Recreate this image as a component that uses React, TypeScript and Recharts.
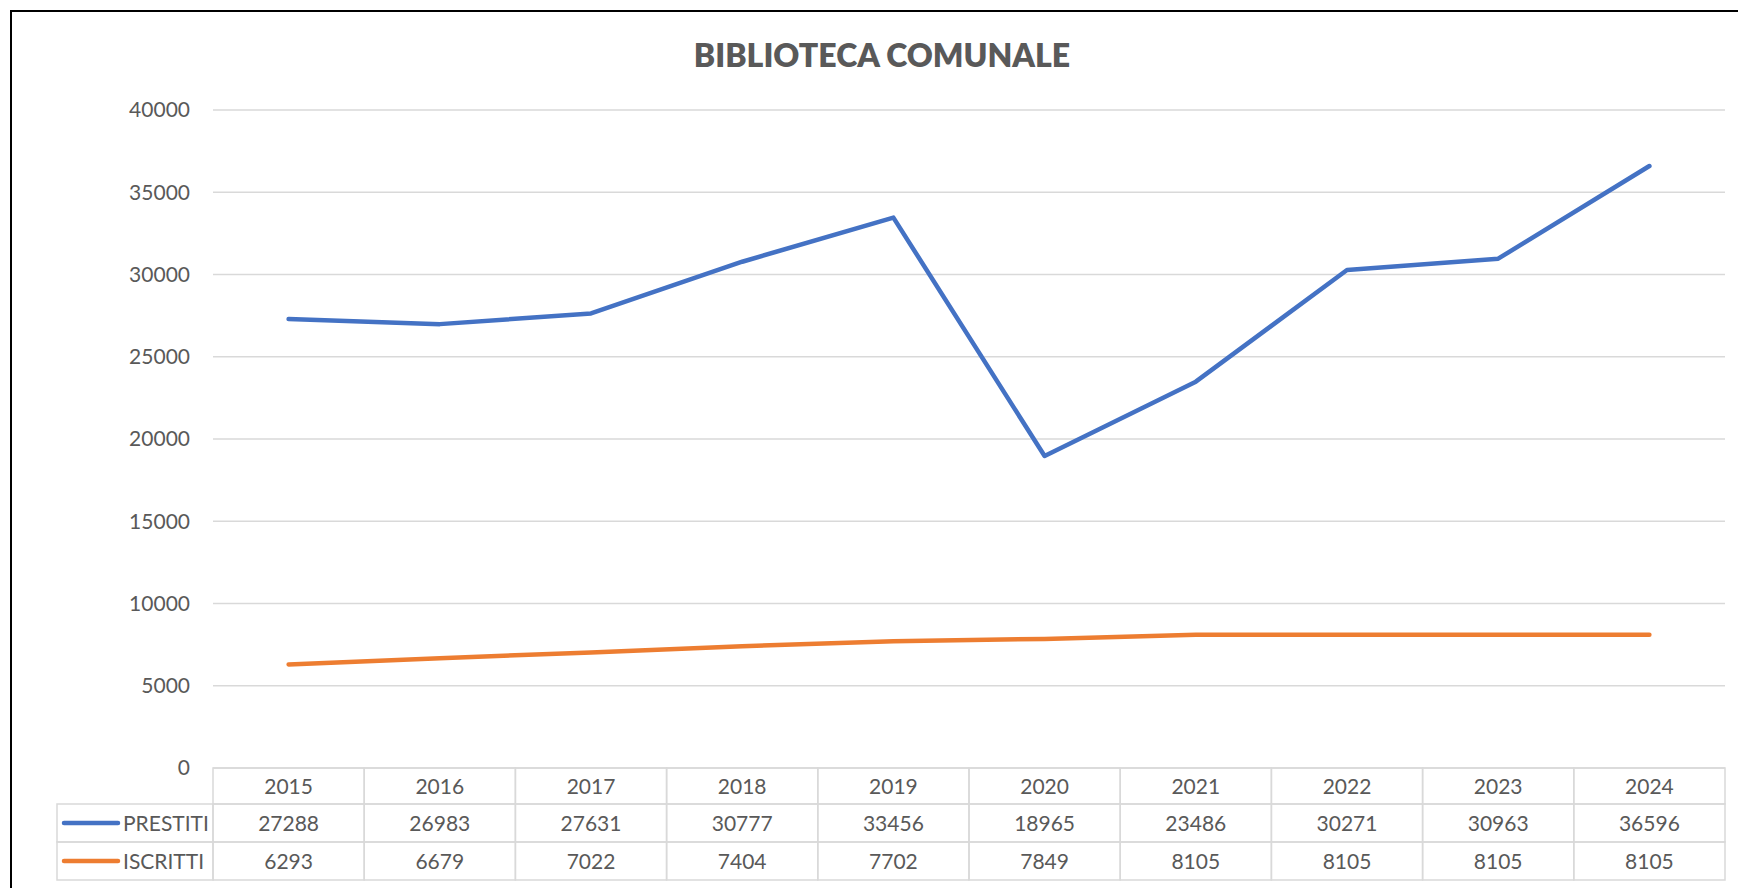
import React from "react";
import { LineChart, Line, XAxis, YAxis, CartesianGrid } from "recharts";

const years = ["2015", "2016", "2017", "2018", "2019", "2020", "2021", "2022", "2023", "2024"];
const prestiti = [27288, 26983, 27631, 30777, 33456, 18965, 23486, 30271, 30963, 36596];
const iscritti = [6293, 6679, 7022, 7404, 7702, 7849, 8105, 8105, 8105, 8105];
const yTicks = [0, 5000, 10000, 15000, 20000, 25000, 30000, 35000, 40000];
const seriesNames = ["PRESTITI", "ISCRITTI"];
const title = "BIBLIOTECA COMUNALE";

const data = years.map((y, i) => ({ year: y, PRESTITI: prestiti[i], ISCRITTI: iscritti[i] }));

const W = 1738;
const H = 888;
const PLOT_LEFT = 213;
const PLOT_RIGHT = 1725;
const COL_W = (PLOT_RIGHT - PLOT_LEFT) / years.length;
const LEGEND_LEFT = 57;
const ROW_H = [36, 38, 38];
const BLUE = "#4472C4";
const ORANGE = "#ED7D31";
const TEXT = "#595959";
const GRID = "#d9d9d9";
const FONT = "Lato, 'Open Sans', sans-serif";
const FS = 21;

const TableTick = (props: any) => {
  const { x, y, payload } = props;
  const i = payload.index;
  const left = x - COL_W / 2;
  const r0 = y;
  const r1 = y + ROW_H[0];
  const r2 = r1 + ROW_H[1];
  const r3 = r2 + ROW_H[2];
  const vals = [prestiti[i], iscritti[i]];
  const colors = [BLUE, ORANGE];
  return (
    <g>
      <rect x={left} y={r0} width={COL_W} height={ROW_H[0]} fill="none" stroke={GRID} strokeWidth={1.5} />
      <rect x={left} y={r1} width={COL_W} height={ROW_H[1]} fill="none" stroke={GRID} strokeWidth={1.5} />
      <rect x={left} y={r2} width={COL_W} height={ROW_H[2]} fill="none" stroke={GRID} strokeWidth={1.5} />
      <text x={x} y={(r0 + r1) / 2} dy="0.36em" textAnchor="middle" fill={TEXT} fontSize={FS} fontFamily={FONT}>
        {payload.value}
      </text>
      <text x={x} y={(r1 + r2) / 2} dy="0.36em" textAnchor="middle" fill={TEXT} fontSize={FS} fontFamily={FONT}>
        {vals[0]}
      </text>
      <text x={x} y={(r2 + r3) / 2} dy="0.36em" textAnchor="middle" fill={TEXT} fontSize={FS} fontFamily={FONT}>
        {vals[1]}
      </text>
      {i === 0 && (
        <g>
          {seriesNames.map((name, k) => {
            const top = k === 0 ? r1 : r2;
            const h = ROW_H[k + 1];
            const cy = top + h / 2;
            return (
              <g key={name}>
                <rect x={LEGEND_LEFT} y={top} width={left - LEGEND_LEFT} height={h} fill="none" stroke={GRID} strokeWidth={1.5} />
                <line x1={LEGEND_LEFT + 7} x2={LEGEND_LEFT + 61} y1={cy} y2={cy} stroke={colors[k]} strokeWidth={4.5} strokeLinecap="round" />
                <text x={LEGEND_LEFT + 66} y={cy} dy="0.36em" fill={TEXT} fontSize={FS} fontFamily={FONT}>
                  {name}
                </text>
              </g>
            );
          })}
        </g>
      )}
    </g>
  );
};

export default function App() {
  return (
    <div style={{ position: "absolute", left: 0, top: 0, width: W, height: H, overflow: "hidden", background: "#fff" }}>
      <div
        style={{
          position: "absolute",
          left: 10,
          top: 10,
          width: 1800,
          height: 1000,
          border: "2px solid #000",
          boxSizing: "border-box",
        }}
      />
      <div
        style={{
          position: "absolute",
          left: 0,
          width: W,
          top: 35,
          textAlign: "center",
          fontFamily: FONT,
          fontWeight: 800,
          fontSize: 32,
          color: TEXT,
          paddingLeft: 26,
          boxSizing: "border-box",
        }}
      >
        {title}
      </div>
      <div style={{ position: "absolute", left: 0, top: 0 }}>
        <LineChart width={W} height={H} data={data} margin={{ top: 110, right: W - PLOT_RIGHT, left: 0, bottom: 8 }}>
          <CartesianGrid vertical={false} stroke={GRID} strokeWidth={1.5} />
          <XAxis
            dataKey="year"
            height={112}
            axisLine={false}
            tickLine={false}
            tickSize={0}
            tickMargin={0}
            interval={0}
            padding={{ left: COL_W / 2, right: COL_W / 2 }}
            tick={<TableTick />}
          />
          <YAxis
            width={PLOT_LEFT}
            domain={[0, 40000]}
            ticks={yTicks}
            axisLine={false}
            tickLine={false}
            tickSize={0}
            tickMargin={23}
            tick={{ fill: TEXT, fontSize: FS, fontFamily: FONT }}
          />
          <Line dataKey="PRESTITI" stroke={BLUE} strokeWidth={4.5} dot={false} strokeLinejoin="round" strokeLinecap="round" isAnimationActive={false} />
          <Line dataKey="ISCRITTI" stroke={ORANGE} strokeWidth={4.5} dot={false} strokeLinejoin="round" strokeLinecap="round" isAnimationActive={false} />
        </LineChart>
      </div>
    </div>
  );
}
